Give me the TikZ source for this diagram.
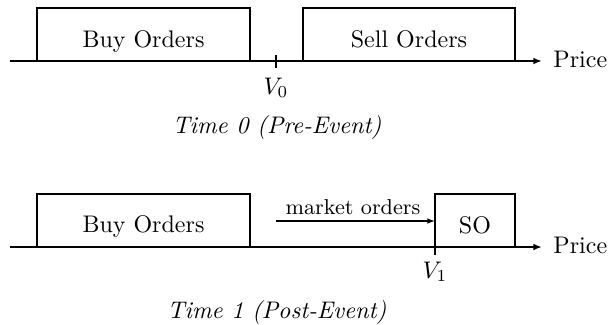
\documentclass[tikz,border=0pt]{standalone}
\usetikzlibrary{arrows.meta}
\begin{document}
\begin{tikzpicture}[x=0.41667pt,y=-0.41667pt,
  edge/.style={line width=1pt, line join=miter},
  axisline/.style={line width=1pt,-{Latex[length=3.6pt,width=2.8pt]}},
  flow/.style={line width=0.6pt,-{Latex[length=3.2pt,width=2.4pt]}},
  lbl/.style={anchor=base,inner sep=0pt},
]
\useasboundingbox (0,0) rectangle (612,324);
% ---------- Time 0 ----------
\coordinate (ax0s) at (10,61);
\coordinate (ax0e) at (542,61);
\coordinate (bo0a) at (37,61);
\coordinate (bo0b) at (250,8);
\coordinate (so0a) at (303,61);
\coordinate (so0b) at (515,8);
\coordinate (v0t) at (276,55);
\coordinate (v0b) at (276,68);
\draw[axisline] (ax0s) -- (ax0e);
\draw[edge] (bo0a) |- (bo0b) -- (bo0b |- bo0a);
\draw[edge] (so0a) |- (so0b) -- (so0b |- so0a);
\draw[edge] (v0t) -- (v0b);
\node[lbl] (buy0) at (143.5,47) {Buy Orders};
\node[lbl] (sell0) at (409,47) {Sell Orders};
\node[lbl, anchor=base west] (price0) at (553,67) {Price};
\node[lbl] (v0) at (276,94) {$V_0$};
\node[lbl] (cap0) at (277,133) {\textit{Time 0 (Pre-Event)}};
% ---------- Time 1 ----------
\coordinate (ax1s) at (10,247);
\coordinate (ax1e) at (542,247);
\coordinate (bo1a) at (37,247);
\coordinate (bo1b) at (250,194);
\coordinate (so1a) at (435,255);
\coordinate (so1b) at (515,194);
\coordinate (so1c) at (515,247);
\coordinate (mo1s) at (276,221);
\coordinate (mo1e) at (435,221);
\draw[axisline] (ax1s) -- (ax1e);
\draw[edge] (bo1a) |- (bo1b) -- (bo1b |- bo1a);
\draw[edge] (so1a) |- (so1b) -- (so1c);
\draw[flow] (mo1s) -- (mo1e);
\node[lbl] (buy1) at (143.5,232) {Buy Orders};
\node[lbl] (sell1) at (475,233) {SO};
\node[lbl, font=\small] (mo1) at (353,214) {market orders};
\node[lbl, anchor=base west] (price1) at (553,253) {Price};
\node[lbl] (v1) at (435,278) {$V_1$};
\node[lbl] (cap1) at (277,318) {\textit{Time 1 (Post-Event)}};
\end{tikzpicture}
\end{document}
